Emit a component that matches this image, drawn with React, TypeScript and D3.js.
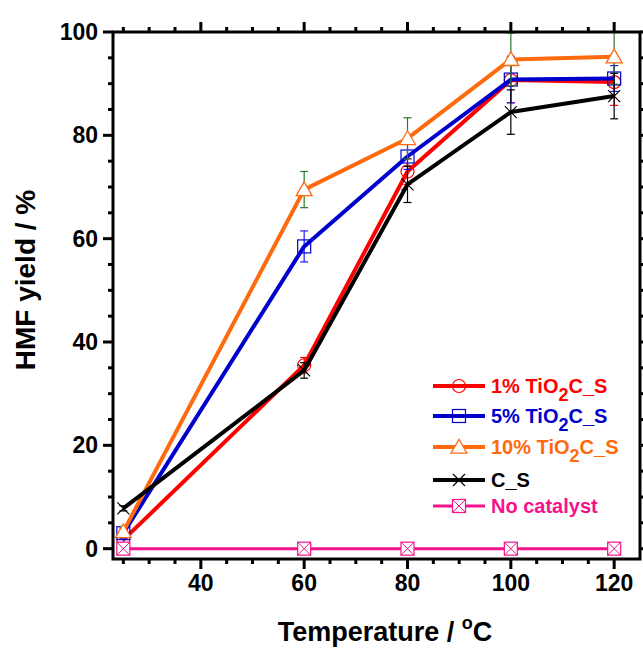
import React from "react";
import * as d3 from "d3";

// temperatures (°C) and HMF yields (%)
const temps = [25, 60, 80, 100, 120];
const tio1 = [1.7, 35.5, 73.0, 90.7, 90.3];
const tio1Err = [1.0, 1.5, 2.5, 4.4, 4.5];
const tio5 = [3.0, 58.5, 75.9, 90.8, 91.0];
const tio5Err = [1.0, 3.0, 2.5, 4.5, 2.5];
const tio10 = [3.3, 69.5, 79.4, 94.7, 95.2];
const tio10Err = [1.0, 3.5, 4.0, 5.1, 5.3];
const cs = [7.8, 34.5, 70.5, 84.5, 87.6];
const csErr = [0.5, 1.5, 3.5, 4.3, 4.4];
const noCat = [0, 0, 0, 0, 0];

const xTicks = [40, 60, 80, 100, 120];
const yTicks = [0, 20, 40, 60, 80, 100];

const W = 643;
const H = 648;
const left = 113, right = 640, top = 32, bottom = 559;
const FONT = "'Liberation Sans', Arial, sans-serif";

const series = [
  { key: "1", pre: "1% TiO", sub: "2", post: "C_S", values: tio1, err: tio1Err, color: "#ff0000", errColor: "#ff0000", marker: "circle", width: 4 },
  { key: "5", pre: "5% TiO", sub: "2", post: "C_S", values: tio5, err: tio5Err, color: "#0000cc", errColor: "#1a1aff", marker: "square", width: 4 },
  { key: "10", pre: "10% TiO", sub: "2", post: "C_S", values: tio10, err: tio10Err, color: "#ff6a0e", errColor: "#2a7a2a", marker: "triangle", width: 4 },
  { key: "cs", pre: "C_S", sub: "", post: "", values: cs, err: csErr, color: "#000000", errColor: "#000000", marker: "x", width: 4 },
  { key: "no", pre: "No catalyst", sub: "", post: "", values: noCat, err: null, color: "#f5128a", errColor: "#f5128a", marker: "xsquare", width: 3 },
];

function Marker({ type, x, y, color }) {
  if (type === "circle")
    return <circle cx={x} cy={y} r={6.5} fill="none" stroke={color} strokeWidth={1.2} />;
  if (type === "square")
    return <rect x={x - 6.5} y={y - 6.5} width={13} height={13} fill="none" stroke={color} strokeWidth={1.2} />;
  if (type === "triangle") {
    const tri = d3.symbol(d3.symbolTriangle, 110)();
    return <path d={tri} transform={`translate(${x},${y + 1.5})`} fill="#ffffff" stroke={color} strokeWidth={1.3} />;
  }
  if (type === "x")
    return (
      <path d={`M${x - 6},${y - 6}L${x + 6},${y + 6}M${x - 6},${y + 6}L${x + 6},${y - 6}`} stroke={color} strokeWidth={1.2} fill="none" />
    );
  return (
    <g>
      <rect x={x - 6.5} y={y - 6.5} width={13} height={13} fill="#ffffff" stroke={color} strokeWidth={1.2} />
      <path d={`M${x - 6.5},${y - 6.5}L${x + 6.5},${y + 6.5}M${x - 6.5},${y + 6.5}L${x + 6.5},${y - 6.5}`} stroke={color} strokeWidth={1} />
    </g>
  );
}

export default function App() {
  const x = d3.scaleLinear().domain([23, 125]).range([left, right]);
  const y = d3.scaleLinear().domain([-2, 100]).range([bottom, top]);
  const line = d3.line<number>().x((d, i) => x(temps[i])).y(d => y(d));

  const xMinor = d3.range(25, 125, 5);
  const yMinor = d3.range(0, 101, 5);

  const legendRows = [386, 416, 447, 480, 506];

  return (
    <svg width={W} height={H} style={{ position: "absolute", left: 0, top: 0, background: "#fff" }} fontFamily={FONT}>
      <defs>
        <clipPath id="plot">
          <rect x={left} y={top} width={right - left} height={bottom - top} />
        </clipPath>
      </defs>

      {/* ticks */}
      <g stroke="#000" strokeWidth={3}>
        {xMinor.map(t => {
          const major = xTicks.includes(t);
          const len = major ? 10 : 5;
          return (
            <g key={"x" + t}>
              <line x1={x(t)} x2={x(t)} y1={bottom} y2={bottom + len} />
              <line x1={x(t)} x2={x(t)} y1={top} y2={top - len} />
            </g>
          );
        })}
        {yMinor.map(t => {
          const major = yTicks.includes(t);
          const len = major ? 10 : 5;
          return (
            <g key={"y" + t}>
              <line x1={left} x2={left - len} y1={y(t)} y2={y(t)} />
              <line x1={right} x2={right + len} y1={y(t)} y2={y(t)} />
            </g>
          );
        })}
      </g>

      {/* tick labels */}
      <g fontSize={23} fontWeight="bold" fill="#000">
        {xTicks.map(t => (
          <text key={t} x={x(t)} y={591} textAnchor="middle">{t}</text>
        ))}
        {yTicks.map(t => (
          <text key={t} x={98} y={y(t) + 8} textAnchor="end">{t}</text>
        ))}
      </g>

      {/* data */}
      <g clipPath="url(#plot)">
        {series.map(s => (
          <g key={s.key}>
            {s.err &&
              s.values.map((v, i) => (
                <g key={i} stroke={s.errColor} strokeWidth={1.2}>
                  <line x1={x(temps[i])} x2={x(temps[i])} y1={y(v - s.err[i])} y2={y(v + s.err[i])} />
                  <line x1={x(temps[i]) - 4} x2={x(temps[i]) + 4} y1={y(v - s.err[i])} y2={y(v - s.err[i])} />
                  <line x1={x(temps[i]) - 4} x2={x(temps[i]) + 4} y1={y(v + s.err[i])} y2={y(v + s.err[i])} />
                </g>
              ))}
            <path d={line(s.values) || ""} fill="none" stroke={s.color} strokeWidth={s.width} strokeLinejoin="round" />
            {s.values.map((v, i) => (
              <Marker key={i} type={s.marker} x={x(temps[i])} y={y(v)} color={s.color} />
            ))}
          </g>
        ))}
      </g>

      {/* frame */}
      <rect x={left} y={top} width={right - left} height={bottom - top} fill="none" stroke="#000" strokeWidth={3} />

      {/* legend */}
      <g fontSize={20} fontWeight="bold">
        {series.map((s, i) => {
          const ly = legendRows[i];
          return (
            <g key={s.key}>
              <line x1={433} x2={485} y1={ly} y2={ly} stroke={s.color} strokeWidth={s.width} />
              <Marker type={s.marker} x={459} y={ly} color={s.color} />
              <text x={491} y={ly + 7} fill={s.color}>
                {s.pre}
                {s.sub && (
                  <tspan dy={8} fontSize={18}>{s.sub}</tspan>
                )}
                {s.sub && <tspan dy={-8}>{s.post}</tspan>}
              </text>
            </g>
          );
        })}
      </g>

      {/* axis titles */}
      <text x={385} y={641} textAnchor="middle" fontSize={27} fontWeight="bold">
        Temperature / <tspan dy={-12} fontSize={18}>o</tspan>
        <tspan dy={12}>C</tspan>
      </text>
      <text transform={`translate(35,280) rotate(-90)`} textAnchor="middle" fontSize={28} fontWeight="bold">
        HMF yield / %
      </text>
    </svg>
  );
}
